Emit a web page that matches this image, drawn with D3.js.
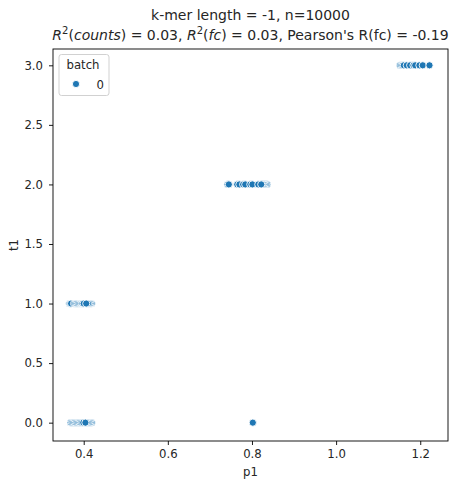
<!DOCTYPE html>
<html>
<head>
<meta charset="utf-8">
<script src="https://cdn.jsdelivr.net/npm/d3@7"></script>
<style>
  body { margin: 0; background: #fff; }
  text { font-family: "DejaVu Sans", sans-serif; fill: #262626; }
</style>
</head>
<body>
<div id="chart"></div>
<script>
// t1 level of each group and the p1 values (in drawing order)
var t1Levels = [0, 0, 1, 2, 3];
var p1Groups = [
    [0.369, 0.372, 0.375, 0.378, 0.381, 0.384, 0.387, 0.390, 0.419, 0.416, 0.413, 0.410, 0.393, 0.396, 0.407, 0.399, 0.404],
    [0.802],
    [0.366, 0.368, 0.370, 0.377, 0.380, 0.383, 0.386, 0.389, 0.392, 0.395, 0.419, 0.416, 0.413, 0.410, 0.397, 0.400, 0.406],
    [0.742, 0.745, 0.765, 0.770, 0.836, 0.833, 0.830, 0.827, 0.824, 0.779, 0.784, 0.796, 0.801, 0.815, 0.822],
    [1.152, 1.155, 1.158, 1.161, 1.168, 1.180, 1.176, 1.184, 1.188, 1.198, 1.206, 1.222]
];
var xTicks = [0.4, 0.6, 0.8, 1.0, 1.2];
var yTicks = [0.0, 0.5, 1.0, 1.5, 2.0, 2.5, 3.0];
var legendTitle = "batch",
    legendLabels = ["0"];

var width = 461, height = 488,
    margins = {top: 49, right: 13, bottom: 47, left: 53},
    w = width - margins.left - margins.right,
    h = height - margins.top - margins.bottom,
    color = "#1f77b4",
    fs = "11.7px";

var points = [];
p1Groups.forEach(function(g, i) {
    g.forEach(function(v) { points.push({p1: v, t1: t1Levels[i]}); });
});

var x = d3.scaleLinear().domain([0.327, 1.266]).range([0, w]);
var y = d3.scaleLinear().domain([-0.154, 3.137]).range([h, 0]);

var svg = d3.select("#chart").append("svg")
    .attr("width", width)
    .attr("height", height);

var g = svg.append("g")
    .attr("transform", "translate(" + margins.left + "," + margins.top + ")");

var xAxis = d3.axisBottom(x).tickValues(xTicks).tickFormat(d3.format(".1f")).tickSize(4).tickPadding(5);
var yAxis = d3.axisLeft(y).tickValues(yTicks).tickFormat(d3.format(".1f")).tickSize(4).tickPadding(6);

g.append("g")
    .attr("transform", "translate(0," + h + ")")
    .call(xAxis);
g.append("g").call(yAxis);

g.selectAll(".tick text").style("font-size", fs).style("font-family", "DejaVu Sans").attr("fill", "#262626");
g.selectAll(".domain").remove();
g.selectAll(".tick line").attr("stroke", "#000").attr("stroke-width", 0.9);

g.selectAll("circle.pt")
    .data(points)
  .enter().append("circle")
    .attr("class", "pt")
    .attr("cx", function(d) { return x(d.p1); })
    .attr("cy", function(d) { return y(d.t1); })
    .attr("r", 3.6)
    .attr("fill", color)
    .attr("stroke", "#fff")
    .attr("stroke-width", 0.9);

// frame
g.append("rect")
    .attr("width", w)
    .attr("height", h)
    .attr("fill", "none")
    .attr("stroke", "#000")
    .attr("stroke-width", 0.9);

// axis labels
svg.append("text")
    .attr("x", margins.left + w / 2)
    .attr("y", 476)
    .attr("text-anchor", "middle")
    .style("font-size", fs)
    .text("p1");

svg.append("text")
    .attr("transform", "translate(18," + (margins.top + h / 2) + ") rotate(-90)")
    .attr("text-anchor", "middle")
    .style("font-size", fs)
    .text("t1");

// title
var cx = margins.left + w / 2;
svg.append("text")
    .attr("x", cx)
    .attr("y", 20)
    .attr("text-anchor", "middle")
    .style("font-size", "14px")
    .text("k-mer length = -1, n=10000");

var t2 = svg.append("text")
    .attr("x", cx)
    .attr("y", 40)
    .attr("text-anchor", "middle")
    .style("font-size", "14px");
[["R", true], ["2", "sup"], ["(", false], ["counts", true], [") = 0.03, ", false],
 ["R", true], ["2", "sup"], ["(", false], ["fc", true], [") = 0.03, Pearson's R(fc) = -0.19", false]]
    .forEach(function(p) {
        var s = t2.append("tspan").text(p[0]);
        if (p[1] === true) s.style("font-style", "italic");
        if (p[1] === "sup") s.style("font-size", "10px").attr("dy", -6);
        if (p[1] === false && p[0] === "(") s.attr("dy", 6);
    });

// legend
var lg = g.append("g").attr("transform", "translate(6,5.5)");
lg.append("rect")
    .attr("width", 50)
    .attr("height", 41)
    .attr("rx", 2.5)
    .attr("fill", "#fff")
    .attr("fill-opacity", 0.8)
    .attr("stroke", "#ccc")
    .attr("stroke-width", 0.9);
lg.append("text")
    .attr("x", 7.5)
    .attr("y", 14)
    .style("font-size", fs)
    .text(legendTitle);
legendLabels.forEach(function(l, i) {
    lg.append("circle")
        .attr("cx", 17)
        .attr("cy", 29.5 + i * 16)
        .attr("r", 3.6)
        .attr("fill", color)
        .attr("stroke", "#fff")
        .attr("stroke-width", 0.9);
    lg.append("text")
        .attr("x", 45)
        .attr("y", 34 + i * 16)
        .attr("text-anchor", "end")
        .style("font-size", fs)
        .text(l);
});
</script>
</body>
</html>
